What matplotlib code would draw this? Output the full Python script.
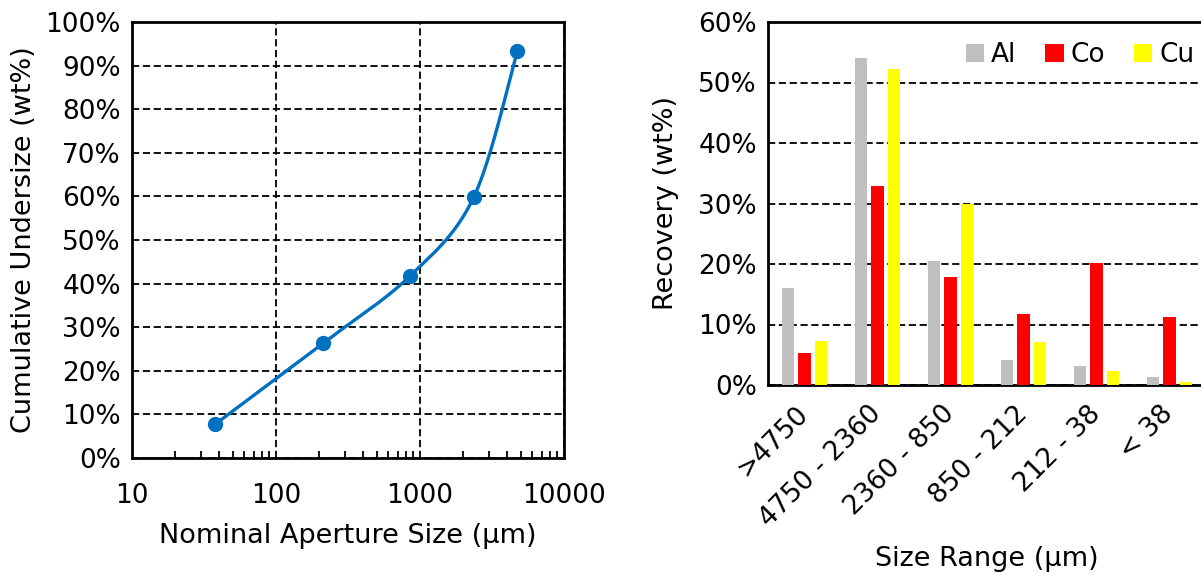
import numpy as np
import matplotlib.pyplot as plt
from matplotlib.ticker import PercentFormatter, LogLocator, NullFormatter, FixedLocator

# Cumulative undersize curve (left panel)
aperture_um = [38, 212, 850, 2360, 4750]
cum_undersize = [7.8, 26.3, 41.7, 59.8, 93.4]

# Recovery by size fraction (right panel)
size_ranges = [">4750", "4750 - 2360", "2360 - 850", "850 - 212", "212 - 38", "< 38"]
recovery_al = [16.1, 54.1, 20.5, 4.1, 3.1, 1.4]
recovery_co = [5.3, 32.9, 17.9, 11.8, 20.2, 11.3]
recovery_cu = [7.3, 52.3, 29.9, 7.1, 2.3, 0.55]

FS = 19
FS_LABEL = 19.5
plt.rcParams["font.family"] = "DejaVu Sans"


def smooth_curve(x, y, n=60):
    """Bezier smoothing through the points, done in log-x / linear-y space."""
    u = np.log10(np.asarray(x, float))
    v = np.asarray(y, float) / 100.0 * 3.0  # roughly square plot: 3 decades vs 100%
    pts = np.column_stack([u, v])
    out = [pts[0]]
    t = np.linspace(0, 1, n)[1:, None]
    for i in range(len(pts) - 1):
        p0 = pts[max(i - 1, 0)]
        p1 = pts[i]
        p2 = pts[i + 1]
        p3 = pts[min(i + 2, len(pts) - 1)]
        b1 = p1 + (p2 - p0) / 6
        b2 = p2 - (p3 - p1) / 6
        seg = ((1 - t) ** 3) * p1 + 3 * ((1 - t) ** 2) * t * b1 \
            + 3 * (1 - t) * t ** 2 * b2 + t ** 3 * p2
        out.extend(seg)
    out = np.array(out)
    return 10 ** out[:, 0], out[:, 1] / 3.0 * 100.0


fig = plt.figure(figsize=(12.01, 5.79), dpi=100)

# ---- left: cumulative undersize ----
ax1 = fig.add_axes([132 / 1201, 1 - 458 / 579, 432 / 1201, 436 / 579])
sx, sy = smooth_curve(aperture_um, cum_undersize)
ax1.plot(sx, sy, color="#0070C0", lw=2.4, zorder=3)
ax1.plot(aperture_um, cum_undersize, "o", color="#0070C0", ms=10, zorder=4)
ax1.set_xscale("log")
ax1.set_xlim(10, 10000)
ax1.set_ylim(0, 100)
ax1.yaxis.set_major_locator(FixedLocator(np.arange(0, 101, 10)))
ax1.yaxis.set_major_formatter(PercentFormatter(decimals=0))
ax1.xaxis.set_major_locator(FixedLocator([10, 100, 1000, 10000]))
ax1.set_xticklabels(["10", "100", "1000", "10000"])
ax1.xaxis.set_minor_locator(LogLocator(base=10, subs=np.arange(2, 10)))
ax1.xaxis.set_minor_formatter(NullFormatter())
ax1.grid(True, which="major", color="black", ls=(0, (4, 2)), lw=1.3)
ax1.tick_params(axis="x", which="major", length=0, labelsize=FS, pad=18)
ax1.tick_params(axis="x", which="minor", direction="in", length=5, width=1.3)
ax1.tick_params(axis="y", length=0, labelsize=FS, pad=8)
for s in ax1.spines.values():
    s.set_linewidth(2)
ax1.set_xlabel("Nominal Aperture Size (μm)", fontsize=FS_LABEL, labelpad=10)
ax1.set_ylabel("Cumulative Undersize (wt%)", fontsize=FS_LABEL, labelpad=6)

# ---- right: recovery by size range ----
ax2 = fig.add_axes([768 / 1201, 1 - 385 / 579, 438 / 1201, 363 / 579])
idx = np.arange(len(size_ranges))
w, step = 0.17, 0.223
ax2.bar(idx - step, recovery_al, w, color="#BFBFBF", label="Al", zorder=3)
ax2.bar(idx, recovery_co, w, color="#FF0000", label="Co", zorder=3)
ax2.bar(idx + step, recovery_cu, w, color="#FFFF00", label="Cu", zorder=3)
ax2.set_xlim(-0.5, len(size_ranges) - 0.5)
ax2.set_ylim(0, 60)
ax2.yaxis.set_major_locator(FixedLocator(np.arange(0, 61, 10)))
ax2.yaxis.set_major_formatter(PercentFormatter(decimals=0))
ax2.yaxis.grid(True, color="black", ls=(0, (4, 2)), lw=1.3, zorder=0)
ax2.set_xticks(idx)
ax2.set_xticklabels(size_ranges, rotation=45, ha="right", va="center",
                    rotation_mode="anchor")
ax2.tick_params(axis="x", length=0, labelsize=FS, pad=18)
ax2.tick_params(axis="y", length=0, labelsize=FS, pad=8)
for s in ax2.spines.values():
    s.set_linewidth(2)
ax2.set_xlabel("Size Range (μm)", fontsize=FS_LABEL, labelpad=10)
ax2.set_ylabel("Recovery (wt%)", fontsize=FS_LABEL, labelpad=14)
ax2.legend(loc="center left", bbox_to_anchor=(942 / 1201, 1 - 55 / 579),
           bbox_transform=fig.transFigure, ncol=3, frameon=False, fontsize=FS,
           handlelength=0.7, handleheight=0.7, handletextpad=0.25,
           columnspacing=1.1)

fig.savefig("out.png", dpi=100)
